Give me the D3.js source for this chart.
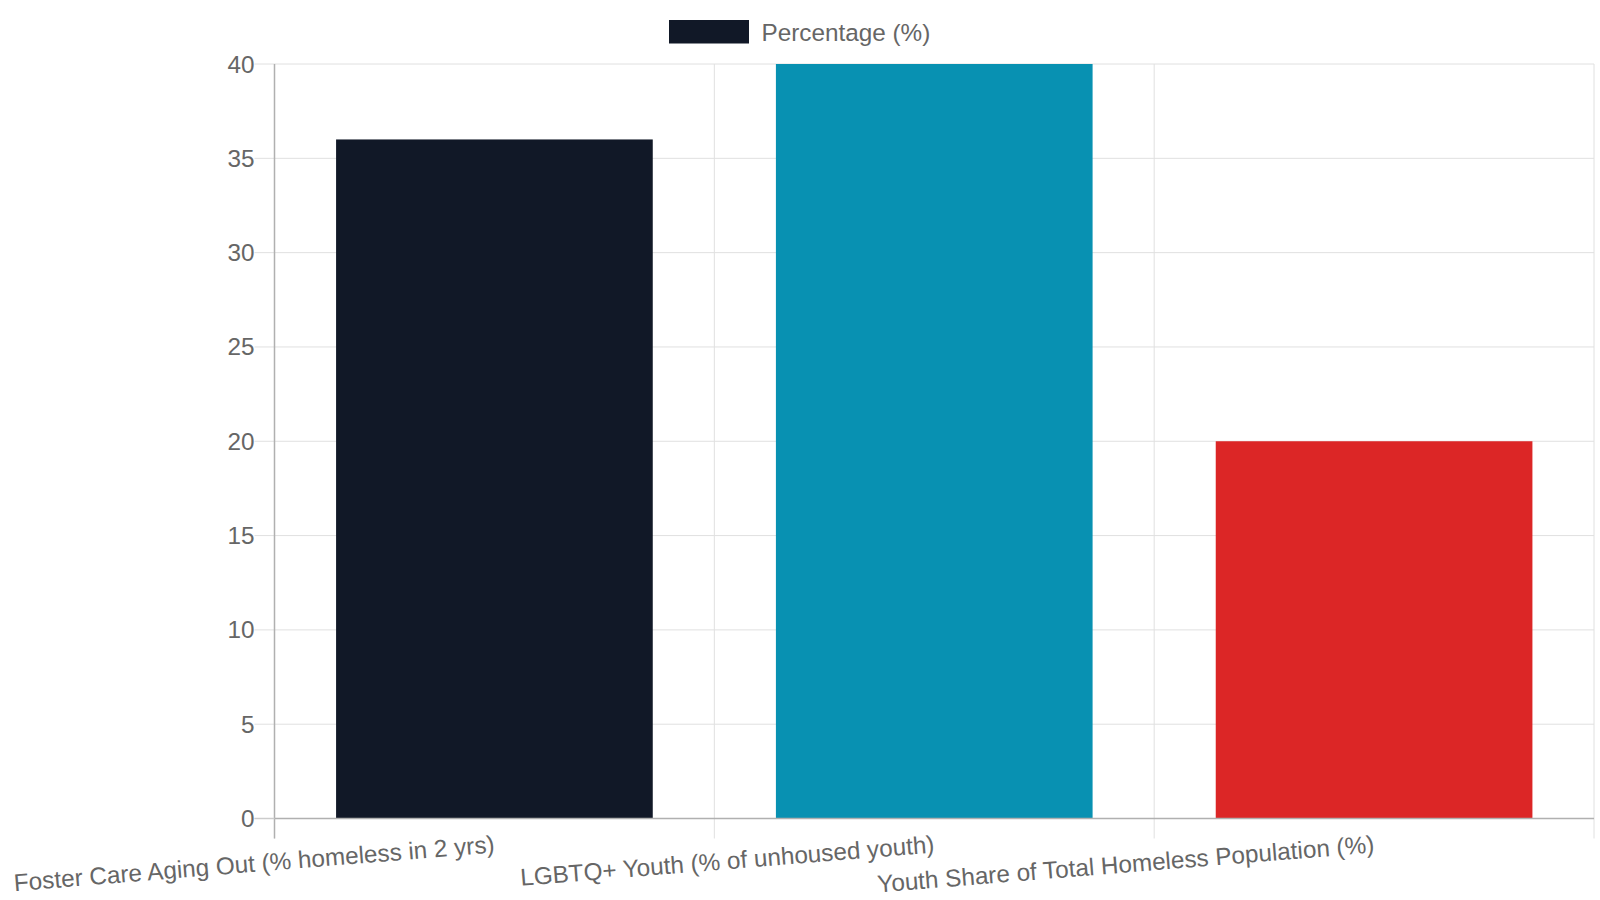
<html>
<head>
<script src="https://d3js.org/d3.v7.min.js"></script>
<style>
body { margin: 0; background: white; }
text { font-family: "Liberation Sans", Arial, sans-serif; fill: #666; }
</style>
</head>
<body>
<svg width="1600" height="900"></svg>
<script>
// chart values
var categories = [
  "Foster Care Aging Out (% homeless in 2 yrs)",
  "LGBTQ+ Youth (% of unhoused youth)",
  "Youth Share of Total Homeless Population (%)"
];
var values = [36, 40, 20];
var barColors = ["#111827", "#0891b2", "#dc2626"];
var yTicks = [0, 5, 10, 15, 20, 25, 30, 35, 40];
var seriesName = "Percentage (%)";

var plotLeft = 274.5, plotRight = 1594, plotTop = 64, plotBottom = 818.5;
var svg = d3.select("svg");

var x = d3.scaleBand()
    .domain(categories)
    .range([plotLeft, plotRight])
    .paddingInner(0.28)
    .paddingOuter(0.14);

var y = d3.scaleLinear()
    .domain([0, 40])
    .range([plotBottom, plotTop]);

// horizontal grid
svg.append("g")
  .selectAll("line")
  .data(yTicks)
  .enter().append("line")
    .attr("x1", plotLeft - 20).attr("x2", plotRight)
    .attr("y1", function(d) { return y(d); })
    .attr("y2", function(d) { return y(d); })
    .style("stroke", "#e0e0e0")
    .style("stroke-width", 1);

// vertical grid at category boundaries
var bounds = d3.range(categories.length + 1).map(function(i) { return plotLeft + i * x.step(); });
svg.append("g")
  .selectAll("line")
  .data(bounds)
  .enter().append("line")
    .attr("x1", function(d) { return d; })
    .attr("x2", function(d) { return d; })
    .attr("y1", plotTop).attr("y2", plotBottom + 20)
    .style("stroke", "#e0e0e0")
    .style("stroke-width", 1);

// bars
svg.append("g")
  .selectAll("rect")
  .data(values)
  .enter().append("rect")
    .attr("x", function(d, i) { return x(categories[i]); })
    .attr("y", function(d) { return y(d); })
    .attr("width", x.bandwidth())
    .attr("height", function(d) { return y(0) - y(d); })
    .attr("fill", function(d, i) { return barColors[i]; });

// axis lines
svg.append("line")
    .attr("x1", plotLeft).attr("x2", plotLeft)
    .attr("y1", plotTop).attr("y2", plotBottom + 20)
    .style("stroke", "#b0b0b0").style("stroke-width", 1.5);
svg.append("line")
    .attr("x1", plotLeft).attr("x2", plotRight)
    .attr("y1", plotBottom).attr("y2", plotBottom)
    .style("stroke", "#b0b0b0").style("stroke-width", 1.5);
svg.append("line")
    .attr("x1", plotLeft - 20).attr("x2", plotLeft)
    .attr("y1", plotBottom).attr("y2", plotBottom)
    .style("stroke", "#cccccc").style("stroke-width", 1.5);

// y tick labels
svg.append("g")
  .selectAll("text")
  .data(yTicks)
  .enter().append("text")
    .attr("x", plotLeft - 20)
    .attr("y", function(d) { return y(d); })
    .attr("text-anchor", "end")
    .attr("dominant-baseline", "central")
    .style("font-size", "24.3px")
    .text(function(d) { return d; });

// x labels, rotated, right end at category centre
svg.append("g")
  .selectAll("text")
  .data(categories)
  .enter().append("text")
    .attr("transform", function(d) {
      return "translate(" + (x(d) + x.bandwidth() / 2) + "," + 844 + ") rotate(-4.6)";
    })
    .attr("text-anchor", "end")
    .attr("dominant-baseline", "central")
    .style("font-size", "24.3px")
    .text(function(d) { return d; });

// legend
svg.append("rect")
    .attr("x", 669).attr("y", 20)
    .attr("width", 80).attr("height", 23.5)
    .attr("fill", barColors[0]);
svg.append("text")
    .attr("x", 761.5).attr("y", 32)
    .attr("dominant-baseline", "central")
    .style("font-size", "24.3px")
    .text(seriesName);
</script>
</body>
</html>
